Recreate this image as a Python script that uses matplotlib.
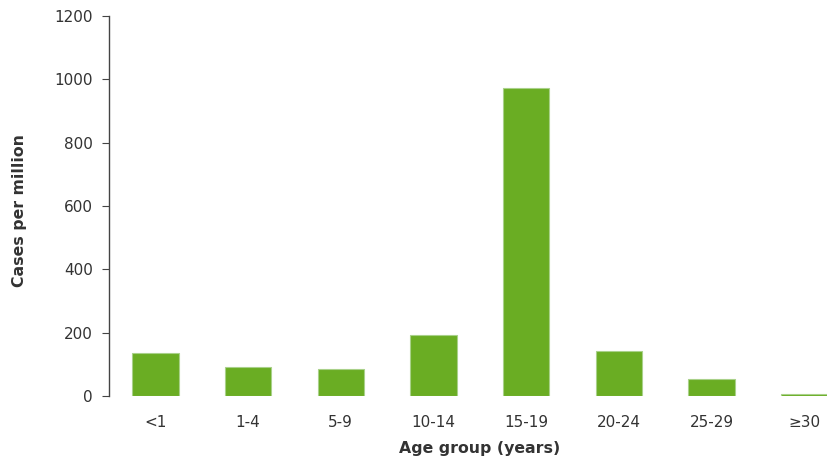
import matplotlib
matplotlib.use("Agg")
import matplotlib.pyplot as plt

categories = ["<1", "1-4", "5-9", "10-14", "15-19", "20-24", "25-29", "≥30"]
values = [137, 92, 86, 193, 972, 142, 53, 7]

plt.rcParams['font.family'] = ['DejaVu Sans']
fig = plt.figure(figsize=(8.27, 4.62), dpi=100)
W = 8 * 92.7
ax = fig.add_axes([109/827, 1-396/462, W/827, 380/462])

x = list(range(len(categories)))
ax.bar(x, values, width=0.5, color='#6aad23', edgecolor='#a9d18a', linewidth=0.8)
ax.set_xlim(-0.5, 7.5)
ax.set_ylim(0, 1200)
ax.set_yticks([0, 200, 400, 600, 800, 1000, 1200])
ax.set_xticks(x)
ax.set_xticklabels(categories)

for s in ['top', 'right', 'bottom']:
    ax.spines[s].set_visible(False)
ax.spines['left'].set_color('#444444')
ax.spines['left'].set_linewidth(1)
ax.tick_params(axis='y', length=5, color='#444444', labelsize=11, labelcolor='#333333', pad=6.5)
ax.tick_params(axis='x', length=0, labelsize=11, labelcolor='#333333', pad=14)

ax.set_ylabel("Cases per million", fontsize=11.3, fontweight='bold', color='#333333')
ax.yaxis.set_label_coords((27-109)/W, (396-211)/380)
ax.set_xlabel("Age group (years)", fontsize=11.3, fontweight='bold', color='#333333')
ax.xaxis.set_label_coords((480-109)/W, -45/380)

fig.savefig("out.png", dpi=100)
